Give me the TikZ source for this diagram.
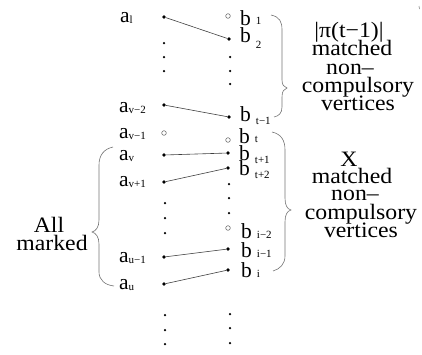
\documentclass[tikz,border=0pt]{standalone}
\usepackage{fontspec}
\setmainfont{Liberation Serif}
\newfontfamily\widefont[FakeStretch=1.08]{Liberation Serif}
\newcommand\alab[1]{a\raisebox{-1.5pt}{\fontsize{11}{11}\selectfont #1}}
\newcommand\blab[2]{b\kern5pt\raisebox{#1}{\fontsize{11}{11}\selectfont #2}}
\begin{document}
\begin{tikzpicture}[x=1pt,y=-1pt,
  pt/.style={circle,fill=black,inner sep=0,minimum size=3.6pt},
  opn/.style={circle,draw=black!55,line width=0.6pt,inner sep=0,minimum size=4.6pt},
  vd/.style={circle,fill=black,inner sep=0,minimum size=2.5pt},
  lab/.style={anchor=base west,inner sep=0,font=\fontsize{21.5}{21.5}\selectfont},
  txt/.style={anchor=base,inner sep=0,font=\widefont\fontsize{22}{22}\selectfont},
  edge/.style={draw=black!75,line width=0.6pt},
  brace/.style={draw=black!55,line width=0.6pt}]
\useasboundingbox (0,0) rectangle (422,354);
% dots left column
\node[pt]  (a1)   at (164,17) {};
\node[vd]  (la1)  at (164,43) {};
\node[vd]  (la2)  at (164,57) {};
\node[vd]  (la3)  at (164,71) {};
\node[pt]  (avm2) at (164,105) {};
\node[opn] (avm1) at (164,133) {};
\node[pt]  (av)   at (164,155) {};
\node[pt]  (avp1) at (164,182) {};
\node[vd]  (lb1)  at (165,203) {};
\node[vd]  (lb2)  at (165,218) {};
\node[vd]  (lb3)  at (165,233) {};
\node[pt]  (aum1) at (164,257) {};
\node[pt]  (au)   at (164,284) {};
\node[vd]  (lc1)  at (165,315) {};
\node[vd]  (lc2)  at (165,330) {};
\node[vd]  (lc3)  at (165,344) {};
% dots right column
\node[opn] (b1)   at (228,16) {};
\node[pt]  (b2)   at (229,39) {};
\node[vd]  (ra1)  at (230,57) {};
\node[vd]  (ra2)  at (230,71) {};
\node[vd]  (ra3)  at (230,84) {};
\node[pt]  (btm1) at (229,117) {};
\node[opn] (bt)   at (228,140) {};
\node[pt]  (btp1) at (228,153) {};
\node[pt]  (btp2) at (228,168) {};
\node[vd]  (rb1)  at (229,184) {};
\node[vd]  (rb2)  at (229,198) {};
\node[vd]  (rb3)  at (229,213) {};
\node[opn] (bim2) at (228,228) {};
\node[pt]  (bim1) at (228,249) {};
\node[pt]  (bi)   at (228,270) {};
\node[vd]  (rc1)  at (230,314) {};
\node[vd]  (rc2)  at (230,328) {};
\node[vd]  (rc3)  at (230,343) {};
% edges
\draw[edge] (a1) -- (b2);
\draw[edge] (avm2) -- (btm1);
\draw[edge] (av) -- (btp1);
\draw[edge] (avp1) -- (btp2);
\draw[edge] (aum1) -- (bim1);
\draw[edge] (au) -- (bi);
% a labels
\node[lab] (la)    at (120,22)  {\alab{l}};
\node[lab] (lavm2) at (119,112) {\alab{v−2}};
\node[lab] (lavm1) at (119,138) {\alab{v−1}};
\node[lab] (lav)   at (119,160) {\alab{v}};
\node[lab] (lavp1) at (119,186) {\alab{v+1}};
\node[lab] (laum1) at (119,262) {\alab{u−1}};
\node[lab] (lau)   at (119,289) {\alab{u}};
% b labels
\node[lab] (lb1)   at (240,25)  {\blab{1pt}{1}};
\node[lab] (lb2)   at (240,42)  {\blab{-6pt}{2}};
\node[lab] (lbtm1) at (240,121) {\blab{-3pt}{t−1}};
\node[lab] (lbt)   at (239,143) {\blab{1pt}{t}};
\node[lab] (lbtp1) at (239,160) {\blab{-3pt}{t+1}};
\node[lab] (lbtp2) at (239,175) {\blab{-3pt}{t+2}};
\node[lab] (lbim2) at (241,238) {\blab{0pt}{i−2}};
\node[lab] (lbim1) at (241,257) {\blab{0pt}{i−1}};
\node[lab] (lbi)   at (241,277) {\blab{0pt}{i}};
% braces
\draw[brace] (271,15) .. controls (280,17) and (282,22) .. (282,30) -- (282,80)
  .. controls (282,85) and (284,87) .. (287,88)
  .. controls (284,89) and (282,91) .. (282,97) -- (282,107)
  .. controls (282,113) and (279,116) .. (274,117);
\draw[brace] (272,132) .. controls (281,134) and (285,140) .. (285,150) -- (285,198)
  .. controls (285,205) and (287,209) .. (291,210)
  .. controls (287,211) and (285,215) .. (285,222) -- (285,256)
  .. controls (285,264) and (280,269) .. (273,271);
\draw[brace] (113,147) .. controls (104,149) and (99,155) .. (99,165) -- (99,220)
  .. controls (99,227) and (96,231) .. (92,232)
  .. controls (96,233) and (99,237) .. (99,244) -- (99,272)
  .. controls (99,280) and (105,285) .. (114,286);
% right texts
\node[txt] (u1) at (349,37)  {|π(t−1)|};
\node[txt] (u2) at (352,55)  {matched};
\node[txt] (u3) at (350,74)  {non–};
\node[txt] (u4) at (358,92)  {compulsory};
\node[txt] (u5) at (358,110) {vertices};
\node[txt] (x1) at (349,166) {X};
\node[txt] (x2) at (352,183) {matched};
\node[txt] (x3) at (355,200) {non–};
\node[txt] (x4) at (361,219) {compulsory};
\node[txt] (x5) at (361,237) {vertices};
% left text
\node[txt] (all)    at (49,232) {All};
\node[txt] (marked) at (52,250) {marked};
% small mark top right
\draw[black!45,line width=0.6pt] (419,6) -- (419.5,9);
\end{tikzpicture}
\end{document}
